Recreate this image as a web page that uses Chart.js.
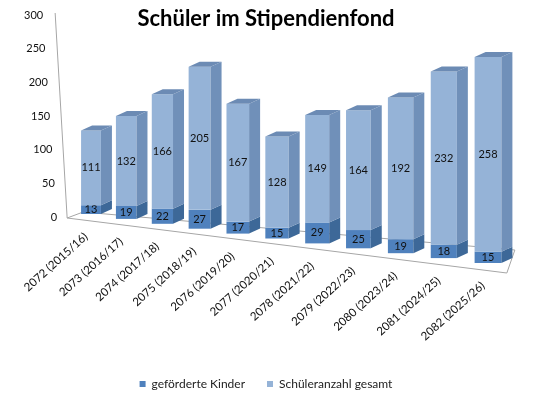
<!DOCTYPE html>
<html>
<head>
<meta charset="utf-8">
<script src="https://cdn.jsdelivr.net/npm/chart.js@4"></script>
<style>
  html, body { margin: 0; padding: 0; background: #fff; }
</style>
</head>
<body>
<canvas id="chart" width="553" height="396"></canvas>
<script>
const jahre = ['2072 (2015/16)', '2073 (2016/17)', '2074 (2017/18)', '2075 (2018/19)', '2076 (2019/20)',
  '2077 (2020/21)', '2078 (2021/22)', '2079 (2022/23)', '2080 (2023/24)', '2081 (2024/25)', '2082 (2025/26)'];
const gefoerderteKinder = [13, 19, 22, 27, 17, 15, 29, 25, 19, 18, 15];
const schuelerGesamt = [111, 132, 166, 205, 167, 128, 149, 164, 192, 232, 258];
const yMax = 300;
const yStep = 50;

const FONT = 'Lato, "Open Sans", sans-serif';
const seitenFarben = ['#3D6898', '#7090B9'];
const deckelFarbe = '#6C8BB4';

// Excel-3D nachgebaut: Boden, Seiten-/Deckflächen und leichte Perspektive
const tiefe = { dx: 11, dy: -5 };
const persp = { drop: 49, lift: 2, sy: 0.12, sx: 0.35, spread: 0.126 };

function projiziere(chart, x) {
  const xs = chart.scales.x;
  const xa = xs.getPixelForValue(0);
  const xb = xs.getPixelForValue(jahre.length - 1);
  const p = (x - xa) / (xb - xa);
  const y0 = chart.scales.y.getPixelForValue(0);
  return {
    x: xa + (xb - xa) * (p * (1 - persp.spread) + persp.spread * p * p),
    base: y0 - persp.lift + persp.drop * p,
    sx: 1 + persp.sx * p,
    sy: 1 + persp.sy * p,
    y0: y0
  };
}

function poly(ctx, pts, farbe) {
  ctx.beginPath();
  ctx.moveTo(pts[0][0], pts[0][1]);
  for (let k = 1; k < pts.length; k++) ctx.lineTo(pts[k][0], pts[k][1]);
  ctx.closePath();
  ctx.fillStyle = farbe;
  ctx.fill();
}

const balken3d = {
  id: 'balken3d',
  beforeDatasetsDraw(chart) {
    const ctx = chart.ctx;
    const area = chart.chartArea;
    const ys = chart.scales.y;
    const y0 = ys.getPixelForValue(0);
    const yTop = ys.getPixelForValue(yMax);

    // Boden und (schräge) Achslinie
    ctx.save();
    ctx.strokeStyle = '#a6a6a6';
    ctx.lineWidth = 1;
    ctx.beginPath();
    ctx.moveTo(area.left - 4, y0 + 2);
    ctx.lineTo(area.right - 1, y0 + 57);
    ctx.lineTo(area.right + 7, y0 + 34);
    ctx.lineTo(area.left + 12, y0 - 4);
    ctx.closePath();
    ctx.moveTo(area.left - 16, yTop - 1);
    ctx.lineTo(area.left - 4, y0 + 2);
    ctx.stroke();

    // y-Beschriftung entlang der schrägen Achse
    ctx.font = '11px ' + FONT;
    ctx.fillStyle = '#111';
    ctx.textAlign = 'right';
    ctx.textBaseline = 'middle';
    ys.ticks.forEach(t => {
      ctx.fillText(String(t.value), area.left - 14 - 14 * (t.value / yMax), ys.getPixelForValue(t.value) + 1);
    });
    ctx.restore();

    const xs = chart.scales.x;
    for (let i = 0; i < jahre.length; i++) {
      for (let d = 0; d < 2; d++) {
        const el = chart.getDatasetMeta(d).data[i];
        const { x, y, base, width } = el.getProps(['x', 'y', 'base', 'width'], true);
        const P = projiziere(chart, x);

        ctx.save();
        ctx.translate(P.x, P.base);
        ctx.scale(P.sx, P.sy);
        ctx.translate(-x, -P.y0);
        el.draw(ctx);
        ctx.restore();

        const L = P.x - width * P.sx / 2;
        const R = P.x + width * P.sx / 2;
        const T = P.base + P.sy * (y - P.y0);
        const B = P.base + P.sy * (base - P.y0);
        poly(ctx, [[R, T], [R + tiefe.dx, T + tiefe.dy], [R + tiefe.dx, B + tiefe.dy], [R, B]], seitenFarben[d]);
        if (d === 1) {
          poly(ctx, [[L, T], [L + tiefe.dx, T + tiefe.dy], [R + tiefe.dx, T + tiefe.dy], [R, T]], deckelFarbe);
        }

        ctx.save();
        ctx.font = '11px ' + FONT;
        ctx.fillStyle = '#111';
        ctx.textAlign = 'center';
        ctx.textBaseline = 'middle';
        ctx.fillText(String(chart.data.datasets[d].data[i]), P.x, (T + B) / 2);
        ctx.restore();
      }

      // Kategorienbeschriftung, schräg
      const P = projiziere(chart, xs.getPixelForValue(i));
      ctx.save();
      ctx.translate(P.x - 5, P.base + 21);
      ctx.rotate(-42 * Math.PI / 180);
      ctx.font = '11.5px ' + FONT;
      ctx.fillStyle = '#111';
      ctx.textAlign = 'right';
      ctx.textBaseline = 'middle';
      ctx.fillText(jahre[i], 0, 0);
      ctx.restore();
    }
    return false;
  }
};

new Chart(document.getElementById('chart'), {
  type: 'bar',
  data: {
    labels: jahre,
    datasets: [
      { label: 'geförderte Kinder', data: gefoerderteKinder, backgroundColor: '#4F81BD', borderWidth: 0,
        barPercentage: 0.5, categoryPercentage: 1 },
      { label: 'Schüleranzahl gesamt', data: schuelerGesamt, backgroundColor: '#95B3D7', borderWidth: 0,
        barPercentage: 0.5, categoryPercentage: 1 }
    ]
  },
  options: {
    responsive: false,
    animation: false,
    layout: { padding: { left: 0, right: 21, top: 0, bottom: -4 } },
    plugins: {
      title: {
        display: true,
        text: 'Schüler im Stipendienfond',
        color: '#000',
        font: { family: FONT, size: 22, weight: 'bold' },
        padding: { top: 5.8, bottom: -18.2 }
      },
      legend: {
        position: 'bottom',
        labels: {
          color: '#222',
          font: { family: FONT, size: 12 },
          boxWidth: 6,
          boxHeight: 6,
          padding: 22
        }
      },
      tooltip: { enabled: false }
    },
    scales: {
      x: {
        stacked: true,
        grid: { display: false },
        border: { display: false },
        ticks: { display: false },
        afterFit: s => { s.height = 140; }
      },
      y: {
        stacked: true,
        min: 0,
        max: yMax,
        grid: { display: false, drawTicks: false },
        border: { display: false },
        ticks: { display: false, stepSize: yStep },
        afterFit: s => { s.width = 71.15; }
      },
      y2: {
        position: 'right',
        grid: { display: false },
        border: { display: false },
        ticks: { display: false },
        afterFit: s => { s.width = 24.15; }
      }
    }
  },
  plugins: [balken3d]
});
</script>
</body>
</html>
